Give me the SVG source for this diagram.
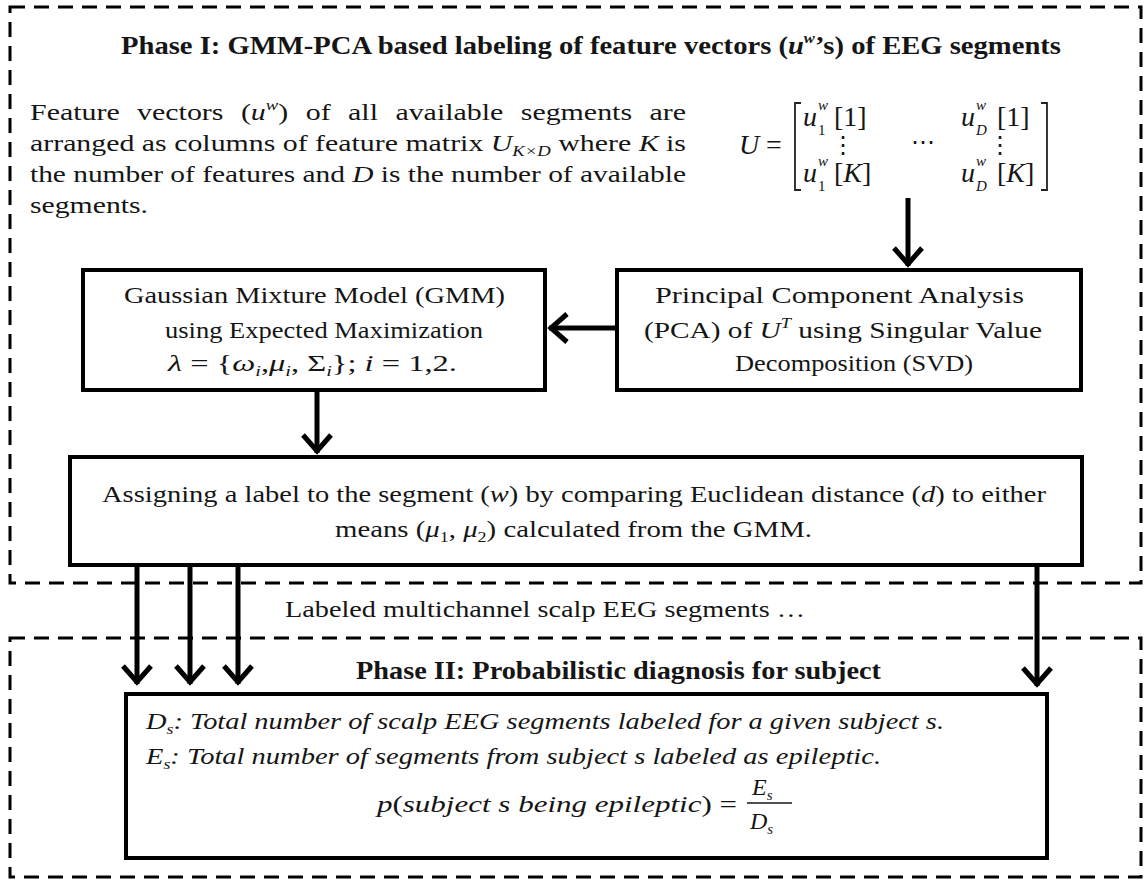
<svg xmlns="http://www.w3.org/2000/svg" width="1147" height="882" viewBox="0 0 1147 882">
<defs>
<style>
.t{font-family:"Liberation Serif","Times New Roman",serif;font-size:24px;fill:#151515}
.b{font-weight:bold;font-size:26px}
.i{font-style:italic}
.s{font-size:15px}
.m{font-size:28px}
.ms{font-size:15px}
.box{fill:#fff;stroke:#000;stroke-width:4}
.dash{fill:none;stroke:#000;stroke-width:3;stroke-dasharray:15 9}
.c{fill:none;stroke:#000;stroke-width:5}
.br{fill:none;stroke:#222;stroke-width:1.8}
</style>
<marker id="ah" markerUnits="userSpaceOnUse" viewBox="-24 -18 28 36" markerWidth="28" markerHeight="36" refX="0" refY="0" orient="auto">
<path d="M-18,-14 L-2,0 L-18,14" fill="none" stroke="#000" stroke-width="5"/>
</marker>
</defs>
<rect width="1147" height="882" fill="#fff"/>

<g id="phase1">
<rect class="dash" x="10" y="7" width="1131" height="576"/>
<text class="t b" x="121" y="54" textLength="940" lengthAdjust="spacingAndGlyphs">Phase I: GMM-PCA based labeling of feature vectors (<tspan class="i">u</tspan><tspan class="i" font-size="15" dy="-11">w</tspan><tspan dy="11">’s) of EEG segments</tspan></text>
</g>

<g id="description">
<text class="t" x="30" y="120" textLength="656" lengthAdjust="spacingAndGlyphs" word-spacing="8">Feature vectors (<tspan class="i">u</tspan><tspan class="i s" dy="-10">w</tspan><tspan dy="10">) of all available segments are</tspan></text>
<text class="t" x="30" y="151" textLength="656" lengthAdjust="spacingAndGlyphs">arranged as columns of feature matrix <tspan class="i">U</tspan><tspan class="i s" dy="5">K×D</tspan><tspan dy="-5"> where </tspan><tspan class="i">K</tspan> is</text>
<text class="t" x="30" y="182" textLength="656" lengthAdjust="spacingAndGlyphs">the number of features and <tspan class="i">D</tspan> is the number of available</text>
<text class="t" x="30" y="213" textLength="118" lengthAdjust="spacingAndGlyphs">segments.</text>
</g>

<g id="matrix">
<text class="t i m" x="739" y="154">U</text>
<text class="t m" x="766" y="154">=</text>
<path class="br" d="M801,103 H795 V190 H801"/>
<path class="br" d="M1041,103 H1047 V190 H1041"/>
<text class="t i m" x="803" y="126">u</text>
<text class="t i ms" x="818" y="110">w</text>
<text class="t ms" x="818" y="135">1</text>
<text class="t m" x="834" y="126">[1]</text>
<text class="t" x="843" y="153" font-size="14" text-anchor="middle">⋮</text>
<text class="t i m" x="803" y="182">u</text>
<text class="t i ms" x="818" y="166">w</text>
<text class="t ms" x="818" y="191">1</text>
<text class="t m" x="834" y="182">[<tspan class="i">K</tspan>]</text>
<text class="t" x="923" y="150" font-size="20" text-anchor="middle">⋯</text>
<text class="t i m" x="961" y="126">u</text>
<text class="t i ms" x="976" y="110">w</text>
<text class="t i ms" x="976" y="135">D</text>
<text class="t m" x="997" y="126">[1]</text>
<text class="t" x="1000" y="153" font-size="14" text-anchor="middle">⋮</text>
<text class="t i m" x="961" y="182">u</text>
<text class="t i ms" x="976" y="166">w</text>
<text class="t i ms" x="976" y="191">D</text>
<text class="t m" x="997" y="182">[<tspan class="i">K</tspan>]</text>
</g>

<g id="gmm">
<rect class="box" x="83" y="270" width="462" height="120"/>
<text class="t" x="124" y="303" textLength="381" lengthAdjust="spacingAndGlyphs">Gaussian Mixture Model (GMM)</text>
<text class="t" x="165" y="338" textLength="318" lengthAdjust="spacingAndGlyphs">using Expected Maximization</text>
<text class="t" x="168" y="371" textLength="289" lengthAdjust="spacingAndGlyphs"><tspan class="i">λ</tspan> = {<tspan class="i">ω</tspan><tspan class="i s" dy="5">i</tspan><tspan dy="-5">,</tspan><tspan class="i">μ</tspan><tspan class="i s" dy="5">i</tspan><tspan dy="-5">, Σ</tspan><tspan class="i s" dy="5">i</tspan><tspan dy="-5">}; </tspan><tspan class="i">i</tspan> = 1,2.</text>
</g>

<g id="pca">
<rect class="box" x="617" y="270" width="464" height="120"/>
<text class="t" x="655" y="303" textLength="369" lengthAdjust="spacingAndGlyphs">Principal Component Analysis</text>
<text class="t" x="644" y="338" textLength="398" lengthAdjust="spacingAndGlyphs">(PCA) of <tspan class="i">U</tspan><tspan class="i s" dy="-10">T</tspan><tspan dy="10"> using Singular Value</tspan></text>
<text class="t" x="735" y="371" textLength="238" lengthAdjust="spacingAndGlyphs">Decomposition (SVD)</text>
</g>

<g id="assign">
<rect class="box" x="70" y="457" width="1012" height="108"/>
<text class="t" x="102" y="502" textLength="944" lengthAdjust="spacingAndGlyphs">Assigning a label to the segment (<tspan class="i">w</tspan>) by comparing Euclidean distance (<tspan class="i">d</tspan>) to either</text>
<text class="t" x="335" y="537" textLength="477" lengthAdjust="spacingAndGlyphs">means (<tspan class="i">μ</tspan><tspan class="s" dy="5">1</tspan><tspan dy="-5">, </tspan><tspan class="i">μ</tspan><tspan class="s" dy="5">2</tspan><tspan dy="-5">) calculated from the GMM.</tspan></text>
</g>

<g id="labeled">
<text class="t" x="285" y="617" textLength="520" lengthAdjust="spacingAndGlyphs">Labeled multichannel scalp EEG segments …</text>
</g>

<g id="phase2">
<rect class="dash" x="10" y="638" width="1131" height="239"/>
<text class="t b" x="356" y="679" textLength="525" lengthAdjust="spacingAndGlyphs">Phase II: Probabilistic diagnosis for subject</text>
</g>

<g id="diagnosis">
<rect class="box" x="126" y="694" width="921" height="164"/>
<text class="t i" x="146" y="729" textLength="798" lengthAdjust="spacingAndGlyphs">D<tspan class="s" dy="5">s</tspan><tspan dy="-5">: Total number of scalp EEG segments labeled for a given subject s.</tspan></text>
<text class="t i" x="146" y="764" textLength="735" lengthAdjust="spacingAndGlyphs">E<tspan class="s" dy="5">s</tspan><tspan dy="-5">: Total number of segments from subject s labeled as epileptic.</tspan></text>
<text class="t" x="377" y="812" textLength="360" lengthAdjust="spacingAndGlyphs" font-size="25"><tspan class="i">p</tspan>(<tspan class="i">subject s being epileptic</tspan>) =</text>
<text class="t i" x="752" y="795" font-size="24">E<tspan class="s" dy="5">s</tspan></text>
<line x1="747" y1="803" x2="792" y2="803" stroke="#151515" stroke-width="1.5"/>
<text class="t i" x="750" y="829" font-size="24">D<tspan class="s" dy="5">s</tspan></text>
</g>

<g id="connectors">
<line class="c" x1="908" y1="198" x2="908" y2="266" marker-end="url(#ah)"/>
<line class="c" x1="617" y1="328" x2="549" y2="328" stroke-width="8" marker-end="url(#ah)"/>
<line class="c" x1="317" y1="392" x2="317" y2="453" marker-end="url(#ah)"/>
<line class="c" x1="137" y1="567" x2="137" y2="684" marker-end="url(#ah)"/>
<line class="c" x1="190" y1="567" x2="190" y2="684" marker-end="url(#ah)"/>
<line class="c" x1="238" y1="567" x2="238" y2="684" marker-end="url(#ah)"/>
<line class="c" x1="1037" y1="567" x2="1037" y2="686" marker-end="url(#ah)"/>
</g>
</svg>
